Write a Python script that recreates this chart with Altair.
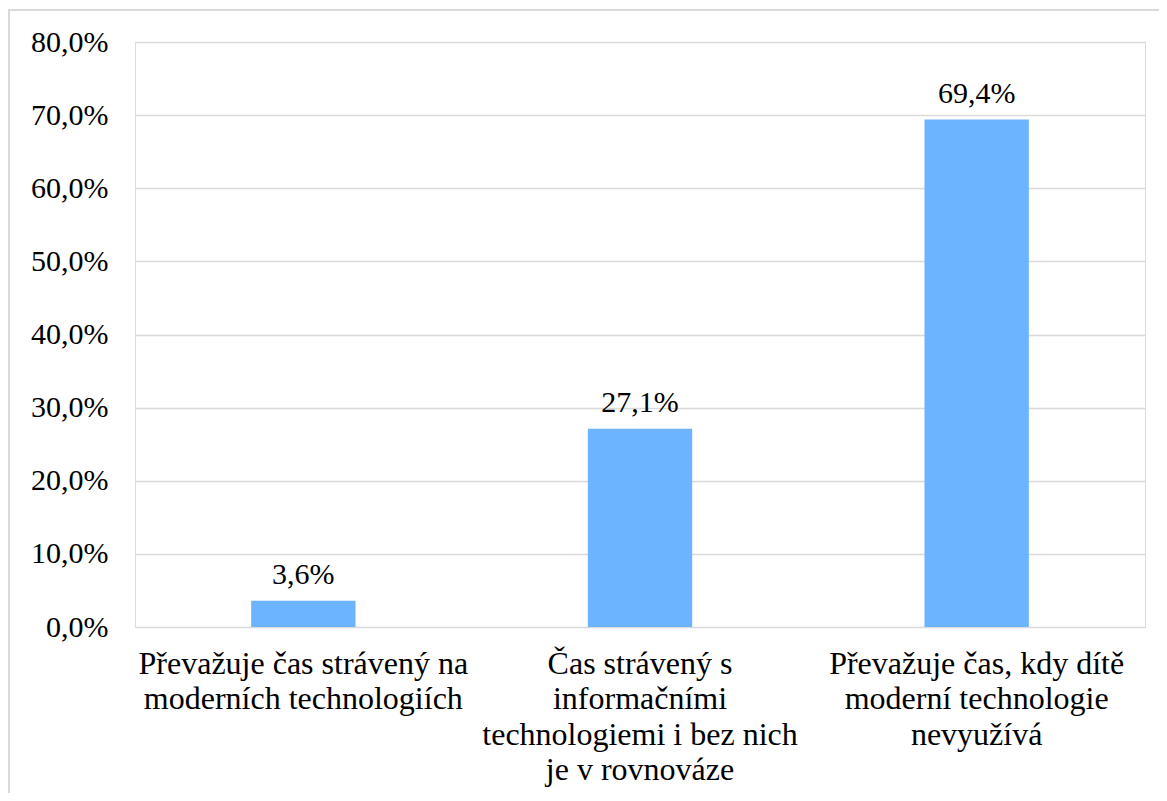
import altair as alt
import pandas as pd

categories = [
    "Převažuje čas strávený na\nmoderních technologiích",
    "Čas strávený s\ninformačními\ntechnologiemi i bez nich\nje v rovnováze",
    "Převažuje čas, kdy dítě\nmoderní technologie\nnevyužívá",
]
values = [0.036, 0.271, 0.694]

df = pd.DataFrame({"cat": categories, "val": values})
FONT = "Liberation Serif"

x = alt.X("cat:N", sort=categories, title=None,
          scale=alt.Scale(paddingInner=0.69, paddingOuter=0.345),
          axis=alt.Axis(labelAngle=0, labelLimit=0, labelFont=FONT, labelFontSize=32,
                        labelColor="black", labelExpr="split(datum.value, '\\n')",
                        labelLineHeight=35.5, labelPadding=21, ticks=False,
                        domain=False, grid=False, labelBaseline="top"))
y = alt.Y("val:Q", title=None,
          scale=alt.Scale(domain=[0, 0.8]),
          axis=alt.Axis(format=".1%", values=[i / 10 for i in range(9)],
                        labelFont=FONT, labelFontSize=30, labelColor="black",
                        labelPadding=27, ticks=False, domain=False,
                        gridColor="#d9d9d9", gridWidth=1.5))

frame = alt.Chart(df).mark_rect(fill=None, stroke="#d9d9d9", strokeWidth=1.5).encode(
    x=alt.value(-126), y=alt.value(-32), x2=alt.value(1300), y2=alt.value(1000))

bars = alt.Chart(df).mark_bar(color="#6cb4ff").encode(x=x, y=y)
labels = alt.Chart(df).mark_text(font=FONT, fontSize=30, color="black", dy=-26,
                                 baseline="middle").encode(
    x=x, y=y, text=alt.Text("val:Q", format=".1%"))

chart = alt.layer(frame, bars, labels).properties(
    width=1010, height=585,
    autosize=alt.AutoSizeParams(type="none"),
    padding={"left": 127, "top": 34, "right": 14, "bottom": 166},
).configure_view(stroke=None).configure(
    locale={"number": {"decimal": ",", "thousands": " ", "grouping": [3],
                       "currency": ["", " Kč"]}}
)

chart.save("out.html", embed_options={"renderer": "svg", "actions": False})
